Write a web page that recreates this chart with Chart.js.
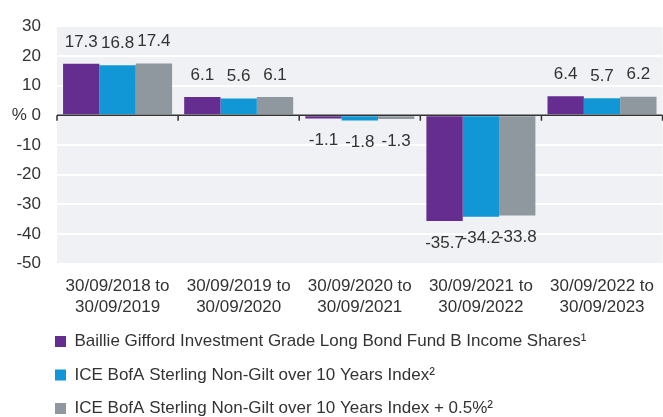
<!DOCTYPE html>
<html>
<head>
<meta charset="utf-8">
<script src="https://cdn.jsdelivr.net/npm/chart.js@4.4.1/dist/chart.umd.min.js"></script>
<style>
  html, body { margin: 0; padding: 0; overflow: hidden; background: #ffffff; }
  #wrap { width: 667px; height: 427px; position: relative; }
</style>
</head>
<body>
<div id="wrap"><canvas id="c"></canvas></div>
<script>
const periodStart = ['30/09/2018 to', '30/09/2019 to', '30/09/2020 to', '30/09/2021 to', '30/09/2022 to'];
const periodEnd = ['30/09/2019', '30/09/2020', '30/09/2021', '30/09/2022', '30/09/2023'];
const seriesNames = [
  'Baillie Gifford Investment Grade Long Bond Fund B Income Shares\u00B9',
  'ICE BofA Sterling Non-Gilt over 10 Years Index\u00B2',
  'ICE BofA Sterling Non-Gilt over 10 Years Index + 0.5%\u00B2'
];
const fundValues = [17.3, 6.1, -1.1, -35.7, 6.4];
const indexValues = [16.8, 5.6, -1.8, -34.2, 5.7];
const indexPlusValues = [17.4, 6.1, -1.3, -33.8, 6.2];
const yTicks = [-50, -40, -30, -20, -10, 0, 10, 20, 30];

const colors = ['#662d91', '#1197d6', '#8f989e'];
const textColor = '#333333';
const FONT = "'Liberation Sans', Arial, sans-serif";

const labels = periodStart.map((s, i) => [s, periodEnd[i]]);

const bgPlugin = {
  id: 'plotBg',
  beforeDraw(chart) {
    const {ctx, chartArea: a} = chart;
    ctx.save();
    ctx.fillStyle = '#f0f1f4';
    ctx.fillRect(a.left, a.top, a.right - a.left, a.bottom - a.top);
    ctx.restore();
  }
};

const axisPlugin = {
  id: 'zeroAxis',
  afterDatasetsDraw(chart) {
    const {ctx, chartArea: a, scales} = chart;
    const y0 = scales.y.getPixelForValue(0);
    ctx.save();
    ctx.strokeStyle = '#333333';
    ctx.lineWidth = 1.5;
    ctx.beginPath();
    ctx.moveTo(a.left, y0);
    ctx.lineTo(a.right, y0);
    const n = chart.data.labels.length;
    for (let i = 0; i <= n; i++) {
      const x = (scales.x.getPixelForValue(i - 1) + scales.x.getPixelForValue(i)) / 2;
      const xx = i === 0 ? a.left : x;
      ctx.moveTo(xx, y0);
      ctx.lineTo(xx, y0 + 5.5);
    }
    ctx.stroke();
    // data labels
    ctx.fillStyle = textColor;
    ctx.font = '17px ' + FONT;
    ctx.textAlign = 'center';
    ctx.textBaseline = 'middle';
    chart.data.datasets.forEach((ds, di) => {
      const meta = chart.getDatasetMeta(di);
      meta.data.forEach((bar, i) => {
        const v = ds.data[i];
        const y = v >= 0 ? bar.y - 22 : bar.y + 22;
        ctx.fillText(v.toFixed(1), bar.x, y);
      });
    });
    ctx.restore();
  }
};

const legendShift = {
  id: 'legendShift',
  afterLayout(chart) {
    const lg = chart.legend;
    if (lg) {
      lg.left = chart.chartArea.left - 2 - lg.options.labels.padding;
    }
  }
};

new Chart(document.getElementById('c'), {
  type: 'bar',
  data: {
    labels: labels,
    datasets: [
      { label: seriesNames[0], data: fundValues, backgroundColor: colors[0] },
      { label: seriesNames[1], data: indexValues, backgroundColor: colors[1] },
      { label: seriesNames[2], data: indexPlusValues, backgroundColor: colors[2] }
    ]
  },
  options: {
    responsive: true,
    maintainAspectRatio: false,
    animation: false,
    devicePixelRatio: 1,
    layout: { padding: { top: 23, left: 0, right: 0, bottom: 0 } },
    datasets: { bar: { categoryPercentage: 0.9, barPercentage: 1.0, borderWidth: 0 } },
    scales: {
      x: {
        grid: { display: false, drawTicks: false },
        border: { display: false },
        afterFit(scale) { scale.height = 53; },
        ticks: { color: textColor, font: { family: FONT, size: 17 }, padding: 13, maxRotation: 0, autoSkip: false }
      },
      y: {
        min: -50,
        max: 30,
        afterBuildTicks(scale) { scale.ticks = yTicks.map(v => ({ value: v })); },
        afterFit(scale) { scale.width = 57; },
        grid: {
          color: ctx => (ctx.tick && ctx.tick.value === 0) ? 'rgba(0,0,0,0)' : '#ffffff',
          lineWidth: 2,
          drawTicks: false
        },
        border: { display: false },
        ticks: {
          color: textColor,
          font: { family: FONT, size: 17 },
          padding: 16,
          callback: v => (v === 0 ? '% 0' : String(v))
        }
      }
    },
    plugins: {
      legend: {
        position: 'bottom',
        align: 'start',
        labels: {
          boxWidth: 11,
          boxHeight: 11,
          padding: 16.5,
          color: textColor,
          font: { family: FONT, size: 17 }
        }
      },
      tooltip: { enabled: false }
    }
  },
  plugins: [bgPlugin, axisPlugin, legendShift]
});
</script>
</body>
</html>
